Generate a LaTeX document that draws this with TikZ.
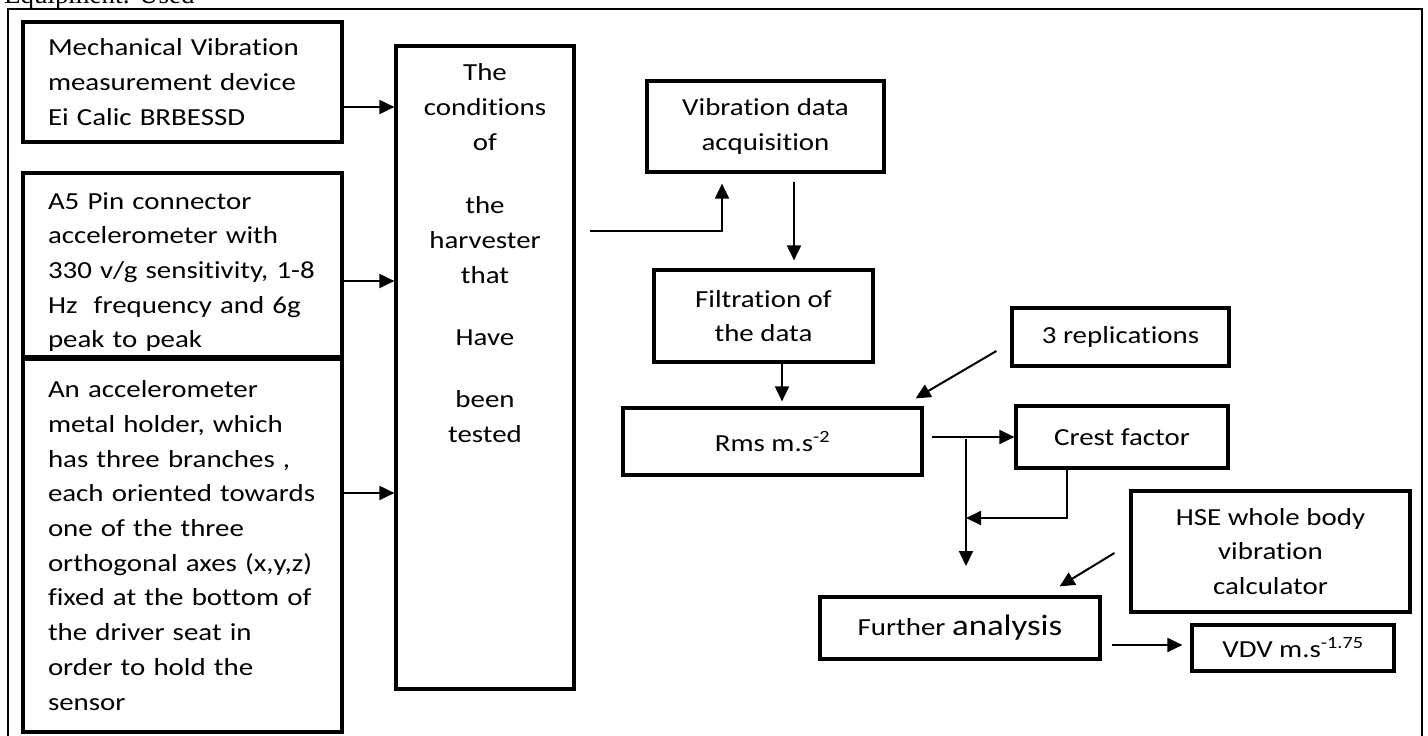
\documentclass[tikz,border=0pt]{standalone}
\usepackage{fontspec}
\setmainfont{Carlito}[FakeStretch=1.18, Ligatures=NoCommon]
\newfontfamily\headserif{Liberation Serif}
\usetikzlibrary{arrows.meta,calc}
\newcommand\diagfont{\fontsize{24.5}{34.7}\selectfont}
\newcommand\bigana{\fontsize{29.5}{34.7}\selectfont}
\begin{document}
\begin{tikzpicture}[x=1pt,y=-1pt,
  box/.style={draw, line width=3.2pt, inner sep=0pt, font=\diagfont},
  lbox/.style={box, text width=269pt, align=left},
  cbox/.style={box, align=center},
  arr/.style={line width=2pt, -{Triangle[length=15pt,width=14pt]}},
  ln/.style={line width=2pt}]
\useasboundingbox (0,0) rectangle (1428,736);
% partial title at the top edge
\node[anchor=base west, inner sep=0pt, font=\headserif\fontsize{27}{30}\selectfont] (title) at (4,3) {Equipment: Used};
% outer frame
\draw[line width=2pt] (8,750) -- (8,9) -- (1422,9) -- (1422,750);

% left boxes
\node[lbox, minimum width=319pt, minimum height=120pt] (b1) at (182.5,82)
  {\mbox{Mechanical Vibration}\\\mbox{measurement device}\\\mbox{Ei Calic BRBESSD}};
\node[lbox, minimum width=319pt, minimum height=184pt] (b2) at (182.5,265)
  {\mbox{\rule{0pt}{31pt}A5 Pin connector}\\\mbox{accelerometer with}\\\mbox{330 v/g sensitivity, 1-8}\\\mbox{Hz\ \ frequency and 6g}\\\mbox{peak to peak}};
\node[lbox, minimum width=319pt, minimum height=373pt] (b3) at (182.5,545.5)
  {\mbox{An accelerometer}\\\mbox{metal holder, which}\\\mbox{has three branches ,}\\\mbox{each oriented towards}\\\mbox{one of the three}\\\mbox{orthogonal axes (x,y,z)}\\\mbox{fixed at the bottom of}\\\mbox{the driver seat in}\\\mbox{order to hold the}\\\mbox{sensor}};

% central box
\node[box, minimum width=178pt, minimum height=643pt] (cond) at (485,367.5) {};
\node[inner sep=0pt, align=center, font=\diagfont, anchor=north] (condtxt) at (485,63.5)
  {The\\conditions\\of\\[29pt]the\\harvester\\that\\[28pt]Have\\[27pt]been\\tested};

% right side boxes
\node[cbox, minimum width=237pt, minimum height=91pt] (acq) at (765.5,126.5) {Vibration data\\acquisition};
\node[cbox, minimum width=219pt, minimum height=92pt] (filt) at (763.5,316) {Filtration of\\the data};
\node[cbox, minimum width=299pt, minimum height=67pt] (rms) at (772.5,441.5) {Rms m.s\textsuperscript{-2}};
\node[cbox, minimum width=217pt, minimum height=58pt] (rep) at (1120.5,337) {3 replications};
\node[cbox, minimum width=212pt, minimum height=62pt] (crest) at (1122,437) {Crest factor};
\node[cbox, minimum width=279pt, minimum height=121pt] (hse) at (1270.5,551.5) {HSE whole body\\vibration\\calculator};
\node[cbox, minimum width=280pt, minimum height=62pt] (fur) at (960,628) {Further {\bigana analysis}};
\node[cbox, minimum width=202pt, minimum height=46pt] (vdv) at (1293,648) {VDV m.s\textsuperscript{-1.75}};

% junction / free-end coordinates
\coordinate (c1) at (590,231);
\coordinate (j1) at (966,439);
\coordinate (j2) at (966,566);
\coordinate (j3) at (966,518);

% connectors
\draw[arr] ([yshift=-25pt]b1.east) -- ([yshift=-25pt]b1.east -| cond.west);
\draw[arr] ([yshift=-16pt]b2.east) -- ([yshift=-16pt]b2.east -| cond.west);
\draw[arr] ([yshift=52.5pt]b3.east) -- ([yshift=52.5pt]b3.east -| cond.west);
\draw[arr, shorten >=10pt] (c1) -| ([xshift=-43.5pt]acq.south);
\draw[arr, shorten <=8pt, shorten >=8pt] ([xshift=28.5pt]acq.south) -- ([xshift=28.5pt]acq.south |- filt.north);
\draw[arr, shorten >=5pt] ([xshift=18.5pt]filt.south) -- ([xshift=18.5pt]filt.south |- rms.north);
\draw[arr] ([xshift=-14pt,yshift=-14pt]rep.west) -- ([xshift=-8pt,yshift=8pt]rms.north east);
\draw[arr] ([xshift=8pt]rms.east |- crest.west) -- (crest.west);
\draw[arr] (j1) -- (j2);
\draw[arr] ([xshift=-55pt]crest.south) |- (j3);
\draw[arr] ([xshift=-15pt,yshift=-1.5pt]hse.west) -- ([xshift=-42pt,yshift=9pt]fur.north east);
\draw[arr] ([xshift=10pt,yshift=-17pt]fur.east) -- ([xshift=-8pt,yshift=3pt]vdv.west);
\end{tikzpicture}
\end{document}
